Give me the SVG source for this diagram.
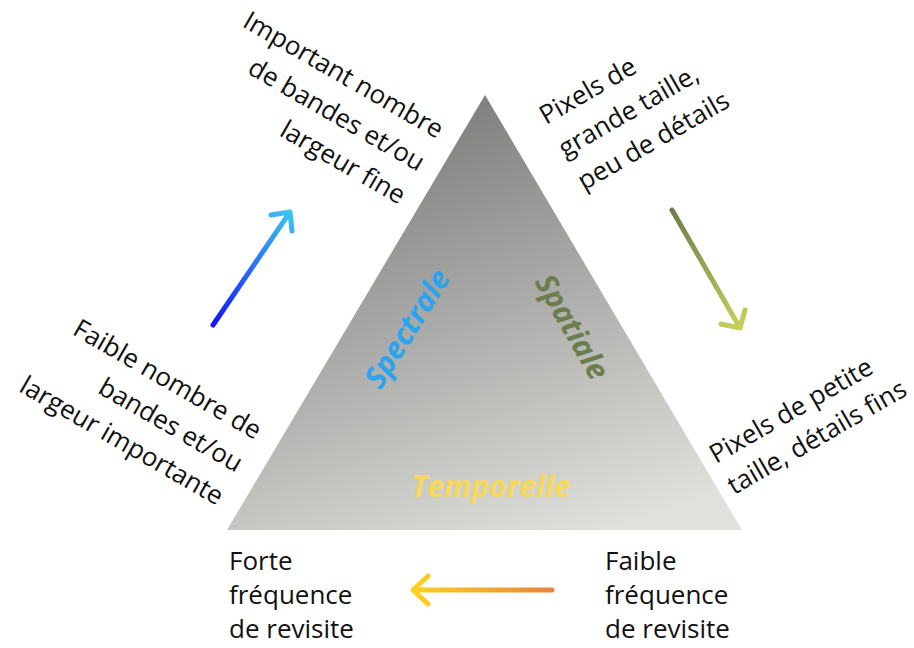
<svg xmlns="http://www.w3.org/2000/svg" width="914" height="648" viewBox="0 0 914 648">
<defs>
<linearGradient id="tri" x1="0.35" y1="0" x2="0.75" y2="1">
<stop offset="0" stop-color="#7a7a7a"/>
<stop offset="1" stop-color="#e0e0dc"/>
</linearGradient>
<linearGradient id="gBlue" gradientUnits="userSpaceOnUse" x1="213" y1="325" x2="290" y2="212">
<stop offset="0" stop-color="#1414ff"/>
<stop offset="1" stop-color="#3cc4f0"/>
</linearGradient>
<linearGradient id="gGreen" gradientUnits="userSpaceOnUse" x1="672" y1="210" x2="740" y2="328">
<stop offset="0" stop-color="#6b7d4e"/>
<stop offset="1" stop-color="#c8d05a"/>
</linearGradient>
<linearGradient id="gOrange" gradientUnits="userSpaceOnUse" x1="552" y1="590" x2="413" y2="590">
<stop offset="0" stop-color="#e8843a"/>
<stop offset="1" stop-color="#fdd21f"/>
</linearGradient>
</defs>
<style>
.t{font-family:"Open Sans","Liberation Sans",sans-serif;font-size:26px;fill:#111}
.r{font-family:"Open Sans","Liberation Sans",sans-serif;font-size:26px;fill:#111}
.lab{font-family:"Open Sans","Liberation Sans",sans-serif;font-size:30px;font-weight:bold;font-style:italic}
.arr{fill:none;stroke-width:5;stroke-linecap:round;stroke-linejoin:round}
</style>
<rect width="914" height="648" fill="#ffffff"/>
<g id="triangle">
<polygon points="485,95 227,530 742,530" fill="url(#tri)"/>
<text class="lab" fill="#2aa3f0" text-anchor="middle" transform="translate(416,334) rotate(-58)">Spectrale</text>
<text class="lab" fill="#6b7d4e" text-anchor="middle" transform="translate(563,332) rotate(60)">Spatiale</text>
<text class="lab" fill="#f8d85a" text-anchor="middle" x="491" y="497">Temporelle</text>
</g>
<g id="connectors">
<path class="arr" stroke="url(#gBlue)" d="M213,325 L290,212 M271,215 L290,212 L292,231"/>
<path class="arr" stroke="url(#gGreen)" d="M672,210 L740,328 M721,324 L740,328 L745,310"/>
<path class="arr" stroke="url(#gOrange)" d="M552,590 L413,590 M428,576 L413,590 L428,604"/>
</g>
<g id="spectral-high">
<g transform="translate(437,139) rotate(30)">
<text class="r" text-anchor="end" x="0" y="0">Important nombre</text>
<text class="r" text-anchor="end" x="0" y="38">de bandes et/ou</text>
<text class="r" text-anchor="end" x="0" y="76">largeur fine</text>
</g>
</g>
<g id="spectral-low">
<g transform="translate(255,440) rotate(30)">
<text class="r" text-anchor="end" x="0" y="0">Faible nombre de</text>
<text class="r" text-anchor="end" x="0" y="38">bandes et/ou</text>
<text class="r" text-anchor="end" x="0" y="76">largeur importante</text>
</g>
</g>
<g id="spatial-low">
<g transform="translate(546,125) rotate(-30)">
<text class="r" x="0" y="0">Pixels de</text>
<text class="r" x="0" y="38">grande taille,</text>
<text class="r" x="0" y="76">peu de détails</text>
</g>
</g>
<g id="spatial-high">
<g transform="translate(716,464) rotate(-30)">
<text class="r" x="0" y="0">Pixels de petite</text>
<text class="r" x="0" y="36">taille, détails fins</text>
</g>
</g>
<g id="temporal-high">
<text class="t" x="229" y="570">Forte</text>
<text class="t" x="229" y="604">fréquence</text>
<text class="t" x="229" y="638">de revisite</text>
</g>
<g id="temporal-low">
<text class="t" x="605" y="570">Faible</text>
<text class="t" x="605" y="604">fréquence</text>
<text class="t" x="605" y="638">de revisite</text>
</g>
</svg>
